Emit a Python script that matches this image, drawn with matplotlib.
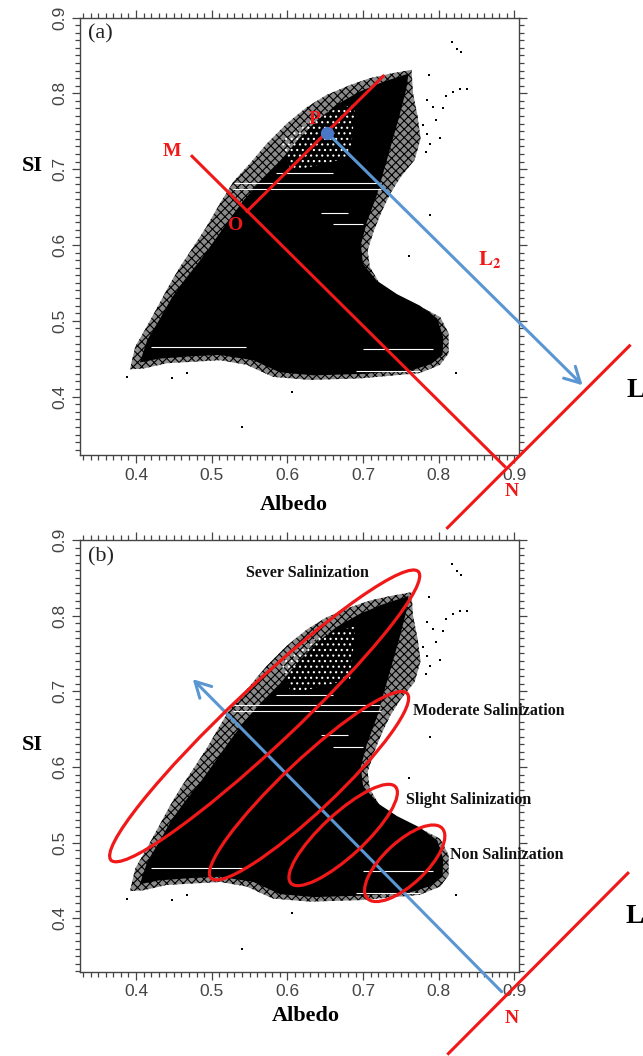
import matplotlib
matplotlib.use('Agg')
import matplotlib.pyplot as plt
from matplotlib.patches import Polygon, Ellipse, FancyArrowPatch
from matplotlib.ticker import MultipleLocator, FixedLocator
import numpy as np

W, H = 643, 1056
plt.rcParams['hatch.linewidth'] = 0.8
plt.rcParams['mathtext.fontset'] = 'stix'

# ---------------- data ----------------
# outer (sparse) extent of the Albedo-SI point cloud
outer_albedo = [0.392, 0.399, 0.414, 0.432, 0.445, 0.458, 0.476, 0.493, 0.511, 0.529,
                0.551, 0.573, 0.599, 0.626, 0.652, 0.683, 0.709, 0.736, 0.764,
                0.766, 0.772, 0.776, 0.768, 0.750, 0.736, 0.725, 0.714, 0.706, 0.709, 0.722,
                0.744, 0.775, 0.802, 0.813, 0.813, 0.802, 0.775, 0.696, 0.630, 0.581,
                0.546, 0.511, 0.476, 0.4405, 0.4097]
outer_si = [0.436, 0.466, 0.492, 0.525, 0.549, 0.571, 0.598, 0.624, 0.655, 0.684,
            0.708, 0.734, 0.760, 0.782, 0.798, 0.811, 0.820, 0.826, 0.831,
            0.800, 0.770, 0.740, 0.712, 0.690, 0.668, 0.645, 0.618, 0.593, 0.571, 0.549,
            0.532, 0.519, 0.505, 0.4835, 0.457, 0.442, 0.431, 0.424, 0.422, 0.426,
            0.442, 0.448, 0.446, 0.444, 0.437]
# dense (solid) core of the cloud
core_albedo = [0.405, 0.415, 0.430, 0.447, 0.465, 0.485, 0.503, 0.522, 0.543, 0.565,
               0.590, 0.615, 0.640, 0.665, 0.695, 0.726, 0.760, 0.757, 0.748, 0.738,
               0.728, 0.718, 0.705, 0.697, 0.700, 0.718, 0.745, 0.775, 0.798, 0.806,
               0.805, 0.790, 0.765, 0.700, 0.635, 0.590, 0.555, 0.510, 0.470, 0.430]
core_si = [0.445, 0.475, 0.500, 0.530, 0.555, 0.580, 0.605, 0.632, 0.660, 0.685,
           0.710, 0.740, 0.765, 0.785, 0.802, 0.815, 0.826, 0.805, 0.770, 0.735,
           0.700, 0.665, 0.630, 0.600, 0.575, 0.553, 0.535, 0.520, 0.503, 0.478,
           0.455, 0.443, 0.435, 0.430, 0.428, 0.432, 0.448, 0.455, 0.453, 0.450]
# sparse (speckled) zone inside the upper wing
sparse_albedo = [0.590, 0.640, 0.690, 0.683, 0.640, 0.605]
sparse_si = [0.738, 0.772, 0.786, 0.716, 0.705, 0.698]
# white horizontal streaks inside the cloud
streak_si = [0.682, 0.674, 0.466, 0.463, 0.434, 0.642, 0.627, 0.695]
streak_x0 = [0.530, 0.528, 0.420, 0.700, 0.690, 0.645, 0.660, 0.585]
streak_x1 = [0.722, 0.724, 0.545, 0.793, 0.775, 0.680, 0.700, 0.660]
# isolated points
outlier_albedo = [0.818, 0.824, 0.830, 0.787, 0.828, 0.837, 0.819, 0.540, 0.388, 0.789,
                  0.8225, 0.606, 0.761, 0.447, 0.467, 0.784, 0.806, 0.797, 0.785,
                  0.801, 0.783, 0.810, 0.793, 0.779, 0.788]
outlier_si = [0.868, 0.859, 0.854, 0.824, 0.806, 0.806, 0.8016, 0.360, 0.426, 0.640,
              0.431, 0.4066, 0.585, 0.424, 0.431, 0.791, 0.780, 0.765, 0.747,
              0.741, 0.723, 0.796, 0.782, 0.758, 0.733]

x_ticks = [0.4, 0.5, 0.6, 0.7, 0.8, 0.9]
y_ticks = [0.4, 0.5, 0.6, 0.7, 0.8, 0.9]
tick_labels = ['0.4', '0.5', '0.6', '0.7', '0.8', '0.9']

# panel (a) construction lines
line_MN = ([0.474, 0.887], [0.717, 0.308])
line_OP = ([0.5466, 0.7267], [0.6444, 0.8227])
line_L_a = ([0.8115, 1.052], [0.227, 0.467])
arrow_L2 = ((0.6526, 0.748), (0.990, 0.415))
point_P = (0.6526, 0.748)
labels_a = [('M', 0.447, 0.723), ('P', 0.636, 0.765), ('O', 0.531, 0.626), ('N', 0.897, 0.275)]

# panel (b) salinization zones (ellipses)
zone_names = ['Sever Salinization', 'Moderate Salinization', 'Slight Salinization', 'Non Salinization']
zone_cx = [0.570, 0.6286, 0.6737, 0.755]
zone_cy = [0.6675, 0.5752, 0.5101, 0.4727]
zone_len = [0.557, 0.356, 0.188, 0.1355]
zone_wid = [0.080, 0.068, 0.056, 0.056]
zone_ang = [43.2, 43.3, 42.7, 43.1]
zone_label_x = [0.627, 0.7664, 0.7567, 0.815]
zone_label_y = [0.857, 0.6746, 0.5567, 0.4838]
zone_label_ha = ['center', 'left', 'left', 'left']
arrow_b = ((0.883, 0.303), (0.475, 0.716))
line_L_b = ([0.8127, 1.0498], [0.2212, 0.4596])

RED = '#f01818'
BLUE = '#5a96d2'
SERIF = 'Liberation Serif'

fig = plt.figure(figsize=(W / 100, H / 100), dpi=100)
ax_a = fig.add_axes([80 / W, 1 - 455 / H, 439 / W, 437.5 / H])
ax_b = fig.add_axes([80 / W, 1 - 972 / H, 439 / W, 432 / H])


def draw_cloud(ax):
    ax.add_patch(Polygon(np.column_stack([outer_albedo, outer_si]), closed=True,
                         facecolor='#8a8a8a', edgecolor='black', hatch='xxxx', lw=0, zorder=1))
    ax.add_patch(Polygon(np.column_stack([core_albedo, core_si]), closed=True,
                         facecolor='black', edgecolor='none', lw=0, zorder=2))
    ax.add_patch(Polygon(np.column_stack([sparse_albedo, sparse_si]), closed=True,
                         facecolor='none', edgecolor='white', hatch='...', lw=0, zorder=3))
    ax.hlines(streak_si, streak_x0, streak_x1, colors='white', lw=0.8, zorder=3)
    ax.scatter(outlier_albedo, outlier_si, s=3, c='black', marker='s', lw=0, zorder=3)


def style_axes(ax, ylo):
    ax.set_xlim(0.326, 0.906)
    ax.set_ylim(ylo, 0.9)
    ax.xaxis.set_major_locator(FixedLocator(x_ticks))
    ax.yaxis.set_major_locator(FixedLocator(y_ticks))
    ax.xaxis.set_minor_locator(MultipleLocator(0.01))
    ax.yaxis.set_minor_locator(MultipleLocator(0.01))
    ax.set_xticklabels(tick_labels)
    ax.set_yticklabels(tick_labels, rotation=90, va='center')
    ax.tick_params(which='both', direction='out', top=True, right=True, colors='#444444',
                   width=0.9)
    ax.tick_params(which='major', length=6, pad=3, labelsize=12.5)
    ax.tick_params(which='minor', length=3.5)
    for lab in ax.get_xticklabels() + ax.get_yticklabels():
        lab.set_fontfamily('Liberation Sans')
        lab.set_color('#444444')
    for sp in ax.spines.values():
        sp.set_color('#444444')
        sp.set_linewidth(1.0)


for ax, ylo in ((ax_a, 0.323), (ax_b, 0.329)):
    draw_cloud(ax)
    style_axes(ax, ylo)

# ---------------- panel (a) ----------------
ax_a.plot(*line_MN, color=RED, lw=2.2, clip_on=False, zorder=5)
ax_a.plot(*line_OP, color=RED, lw=2.2, clip_on=False, zorder=5)
ax_a.plot(*line_L_a, color=RED, lw=2.2, clip_on=False, zorder=5)
arr = FancyArrowPatch(arrow_L2[0], arrow_L2[1], arrowstyle='->,head_length=0.55,head_width=0.3',
                      mutation_scale=20, color=BLUE, lw=2.2, shrinkA=0, shrinkB=0, zorder=6)
arr.set_clip_on(False)
ax_a.add_patch(arr)
ax_a.plot([point_P[0]], [point_P[1]], 'o', ms=8.5, color='#4a78c8', zorder=7, clip_on=False)
for t, x, y in labels_a:
    ax_a.text(x, y, t, color=RED, fontsize=14, fontweight='bold', family=SERIF,
              ha='center', va='center', zorder=8, clip_on=False)
ax_a.text(0.8675, 0.5806, r'$\mathbf{L_2}$', color=RED, fontsize=15, ha='center',
          va='center', zorder=8)
ax_a.text(1.0477, 0.40, 'L', fontsize=20, fontweight='bold', family=SERIF, ha='left',
          va='baseline', color='black', clip_on=False)
ax_a.text(0.337, 0.878, '(a)', fontsize=16, family=SERIF, ha='left', va='center', color='#222222')

# ---------------- panel (b) ----------------
for i in range(len(zone_names)):
    ax_b.add_patch(Ellipse((zone_cx[i], zone_cy[i]), zone_len[i], zone_wid[i], angle=zone_ang[i],
                           facecolor='none', edgecolor=RED, lw=2.3, zorder=6))
    ax_b.text(zone_label_x[i], zone_label_y[i], zone_names[i], fontsize=11.5, fontweight='bold',
              family=SERIF, ha=zone_label_ha[i], va='center', color='#111111', zorder=8,
              clip_on=False)
arr_b = FancyArrowPatch(arrow_b[0], arrow_b[1], arrowstyle='->,head_length=0.55,head_width=0.3',
                        mutation_scale=20, color=BLUE, lw=2.2, shrinkA=0, shrinkB=0, zorder=5)
arr_b.set_clip_on(False)
ax_b.add_patch(arr_b)
ax_b.plot(*line_L_b, color=RED, lw=2.2, clip_on=False, zorder=7)
ax_b.text(0.896, 0.267, 'N', color=RED, fontsize=14, fontweight='bold', family=SERIF,
          ha='center', va='center', zorder=8)
ax_b.text(1.0468, 0.394, 'L', fontsize=20, fontweight='bold', family=SERIF, ha='left',
          va='baseline', color='black')
ax_b.text(0.337, 0.878, '(b)', fontsize=16, family=SERIF, ha='left', va='center', color='#222222')

# axis labels
fig.text(32 / W, 1 - 166 / H, 'SI', fontsize=16, fontweight='bold', family=SERIF,
         ha='center', va='center')
fig.text(32 / W, 1 - 745 / H, 'SI', fontsize=16, fontweight='bold', family=SERIF,
         ha='center', va='center')
fig.text(294 / W, 1 - 505 / H, 'Albedo', fontsize=16, fontweight='bold', family=SERIF,
         ha='center', va='center')
fig.text(306 / W, 1 - 1016 / H, 'Albedo', fontsize=16, fontweight='bold', family=SERIF,
         ha='center', va='center')

fig.savefig('out.png', dpi=100, facecolor='white')
